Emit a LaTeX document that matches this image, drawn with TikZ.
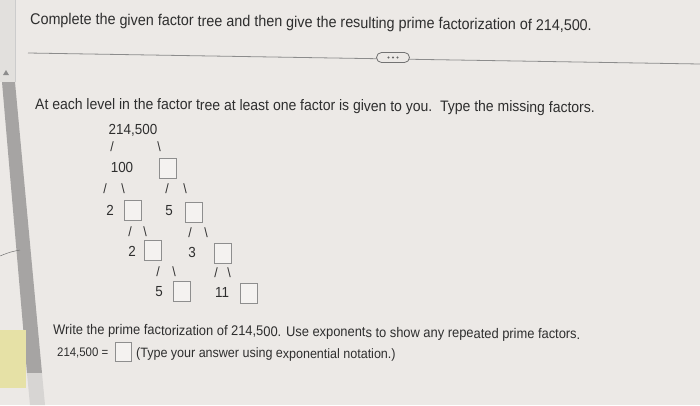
\documentclass[tikz,border=0pt]{standalone}
\usepackage{fontspec}
\setmainfont[FakeStretch=0.92]{Liberation Sans}
\definecolor{bg}{HTML}{ECE9E6}
\definecolor{ink}{HTML}{2E2E2E}
\definecolor{barc}{HTML}{A6A4A3}
\definecolor{stripc}{HTML}{D7D5D3}
\definecolor{sidec}{HTML}{E2E0DD}
\definecolor{yel}{HTML}{E6E1A6}
\definecolor{boxc}{HTML}{8E8E8E}
\begin{document}
\begin{tikzpicture}[x=1pt,y=-1pt,
  txt/.style={text=ink, inner sep=0pt, anchor=base west},
  big/.style={txt, font=\fontsize{15.6}{17}\selectfont},
  mid/.style={txt, font=\fontsize{15.2}{17}\selectfont},
  sml/.style={txt, font=\fontsize{14}{16}\selectfont},
  num/.style={text=ink, inner sep=0pt, anchor=base, font=\fontsize{14.6}{16}\selectfont},
  sl/.style={text=ink, inner sep=0pt, anchor=base, font=\fontsize{13.5}{15}\selectfont},
  ansbox/.style={draw=boxc, line width=0.9pt, fill=bg!60!white, minimum width=17pt, minimum height=20pt, inner sep=0pt},
  dot/.style={circle, fill=black!60, inner sep=0pt, minimum size=2.4pt}
]
% background and page furniture
\fill[bg] (0,0) rectangle (700,405);
\useasboundingbox (0,0) rectangle (700,405);
\fill[sidec] (0,0) rectangle (15,82);
\draw[black!20, line width=0.6pt] (15,0) -- (15,82);
\fill[barc] (2,82) -- (15,82) -- (42,373) -- (27,373) -- cycle;
\fill[stripc] (27,373) -- (42,373) -- (45,405) -- (30,405) -- cycle;
\fill[yel] (0,330) rectangle (26,388);
\fill[black!45] (3,75) -- (9,75) -- (6,70) -- cycle;
\draw[black!55, line width=0.5pt] (0,256) .. controls (10,252) .. (20,250);

% header
\node[big, rotate=-0.7] (title) at (30,24) {Complete the given factor tree and then give the resulting prime factorization of 214,500.};
\coordinate (ruleL) at (28,53);
\coordinate (ruleR) at (700,64);
\draw[black!45, line width=0.8pt] (ruleL) -- (ruleR);
\node[draw=black!55, line width=0.8pt, fill=bg, rounded corners=5pt, minimum width=33pt, minimum height=10pt, inner sep=0pt] (pill) at (393,57.5) {};
\node[dot] (d1) at ([xshift=-4.5pt]pill.center) {};
\node[dot] (d2) at (pill.center) {};
\node[dot] (d3) at ([xshift=4.5pt]pill.center) {};

\node[mid, rotate=-0.35] (instr) at (35,109) {At each level in the factor tree at least one factor is given to you.\ \ Type the missing factors.};

% tree
\node[num] (n0) at (133,134) {214,500};
\node[sl] (s0l) at (112,151) {/};
\node[sl] (s0r) at (159,151) {\textbackslash};

\node[num] (n1) at (122,172) {100};
\node[ansbox] (b1) at (167.5,168) {};
\node[sl] (s1a) at (105,193) {/};
\node[sl] (s1b) at (123,193) {\textbackslash};
\node[sl] (s1c) at (167,193) {/};
\node[sl] (s1d) at (185,193) {\textbackslash};

\node[num] (n2a) at (110,215) {2};
\node[ansbox] (b2a) at (132.5,210) {};
\node[num] (n2b) at (169,215) {5};
\node[ansbox] (b2b) at (193.5,212) {};
\node[sl] (s2a) at (130,236) {/};
\node[sl] (s2b) at (145,236) {\textbackslash};
\node[sl] (s2c) at (190,237) {/};
\node[sl] (s2d) at (206,237) {\textbackslash};

\node[num] (n3a) at (132,256) {2};
\node[ansbox] (b3a) at (152.5,250.5) {};
\node[num] (n3b) at (192,257) {3};
\node[ansbox] (b3b) at (223,253) {};
\node[sl] (s3a) at (158,276) {/};
\node[sl] (s3b) at (174,276) {\textbackslash};
\node[sl] (s3c) at (216,277) {/};
\node[sl] (s3d) at (229,277) {\textbackslash};

\node[num] (n4a) at (159,296) {5};
\node[ansbox] (b4a) at (182,291.5) {};
\node[num] (n4b) at (222,297) {11};
\node[ansbox] (b4b) at (249,293.5) {};

% answer area
\node[sml, rotate=-0.55] (q) at (53,334) {Write the prime factorization of 214,500. Use exponents to show any repeated prime factors.};
\node[txt, font=\fontsize{12.4}{14}\selectfont] (lhs) at (57,356) {214,500 =};
\node[ansbox, minimum width=16pt, minimum height=19pt] (ans) at (123.5,352) {};
\node[txt, font=\fontsize{13.6}{15}\selectfont, rotate=-0.4] (hint) at (136,357) {(Type your answer using exponential notation.)};
\end{tikzpicture}
\end{document}
